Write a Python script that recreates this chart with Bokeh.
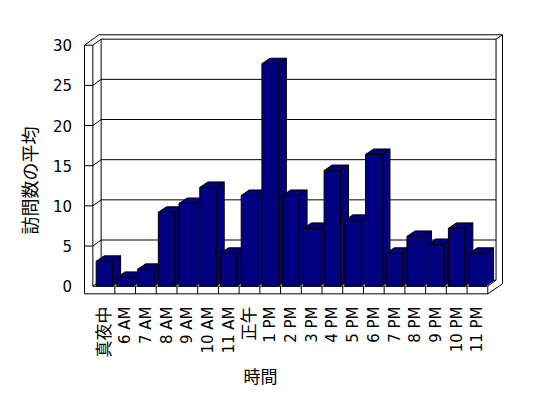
import math
from bokeh.plotting import figure
from bokeh.models import Range1d
from bokeh.core.properties import value
from bokeh.embed import file_html
from bokeh.resources import INLINE

# ---- data ----
categories = ["真夜中", "6 AM", "7 AM", "8 AM", "9 AM", "10 AM", "11 AM", "正午",
              "1 PM", "2 PM", "3 PM", "4 PM", "5 PM", "6 PM", "7 PM", "8 PM",
              "9 PM", "10 PM", "11 PM"]
visits = [3.1, 1.1, 2.1, 9.2, 10.3, 12.3, 4.1, 11.3, 27.7, 11.3, 7.2, 14.4,
          8.2, 16.4, 4.1, 6.2, 5.2, 7.2, 4.1]
y_ticks = [0, 5, 10, 15, 20, 25, 30]
x_title = "時間"
y_title = "訪問数の平均"

# ---- pseudo-3D geometry (x: category slots, y: value units) ----
N = len(categories)
YMAX = y_ticks[-1]
DX, DY = 0.40, 0.75          # wall depth offset
BX, BY = 0.39, 0.68          # bar depth offset
BAR_L, BAR_R = 0.10, 0.89    # bar front face inside its slot
WALL_OUT, WALL_IN = -0.463, -0.06
FLOOR_B = -0.95
TOP_OUT = 31.3
TOP_LX = 0.23
RIGHT_OUT = N + 0.71
FLOOR_RS = 0.3
YLAB_X = -1.06               # right edge of value labels
XLAB_Y = -2.53               # top of category labels

NAVY = "#000080"
NUM_FONT = "DejaVu Sans, Noto Sans CJK JP"
CJK_FONT = "Noto Sans CJK JP"

p = figure(width=548, height=398, output_backend="svg", toolbar_location=None,
           x_range=Range1d(-4.517, 21.931), y_range=Range1d(-13.98, 35.566),
           min_border=0)
p.axis.visible = False
p.outline_line_color = None
p.xgrid.visible = False
p.ygrid.visible = False
p.background_fill_color = "white"
p.border_fill_color = "white"

# ---- walls, floor, gridlines ----
xs, ys = [], []
for v in y_ticks[1:-1]:
    xs.append([WALL_OUT, WALL_IN, WALL_IN + DX, N + DX])
    ys.append([v, v, v + DY, v + DY])
xs.append([WALL_OUT, WALL_IN, WALL_IN + DX, N + DX, RIGHT_OUT])
ys.append([YMAX, YMAX, YMAX + DY, YMAX + DY, TOP_OUT])
xs.append([WALL_OUT, TOP_LX, RIGHT_OUT, RIGHT_OUT, N, WALL_OUT, WALL_OUT])
ys.append([YMAX, TOP_OUT, TOP_OUT, FLOOR_RS, FLOOR_B, FLOOR_B, YMAX])
xs.append([WALL_IN, WALL_IN]); ys.append([0, YMAX])
xs.append([WALL_IN + DX, WALL_IN + DX]); ys.append([DY, YMAX + DY])
xs.append([N + DX, N + DX]); ys.append([DY, YMAX + DY])
xs.append([WALL_IN + DX, WALL_IN, N, N]); ys.append([DY, 0, 0, FLOOR_B])
xs.append([WALL_IN + DX, N + DX, N]); ys.append([DY, DY, 0])
for k in range(1, N):
    xs.append([k, k]); ys.append([FLOOR_B, 0])
p.multi_line(xs, ys, line_color="black", line_width=1)

# ---- bars ----
bx, by = [], []
for i, v in enumerate(visits):
    l, r = i + BAR_L, i + BAR_R
    bx.append([r, r + BX, r + BX, r]); by.append([0, BY, v + BY, v])          # side
    bx.append([l, r, r + BX, l + BX]); by.append([v, v, v + BY, v + BY])     # top
    bx.append([l, r, r, l]); by.append([0, 0, v, v])                         # front
p.patches(bx, by, fill_color=NAVY, line_color="black", line_width=1)

# ---- tick labels ----
p.text(x=[YLAB_X] * len(y_ticks), y=y_ticks, text=[str(t) for t in y_ticks],
       text_align="right", text_baseline="middle", text_font=value(NUM_FONT),
       text_font_size="15px", text_color="black")
cat_sizes = ["15px" if c.isascii() else "17px" for c in categories]
p.text(x=[i + 0.5 for i in range(N)], y=[XLAB_Y] * N, text=categories,
       angle=math.pi / 2, text_align="right", text_baseline="middle",
       text_font=value(NUM_FONT), text_font_size=cat_sizes, text_color="black")

# ---- titles ----
p.text(x=[-3.118], y=[13.16], text=[y_title], angle=math.pi / 2,
       text_align="center", text_baseline="middle", text_font=value(CJK_FONT),
       text_font_size="18px", text_color="black")
p.text(x=[8.03], y=[-11.12], text=[x_title],
       text_align="center", text_baseline="middle", text_font=value(CJK_FONT),
       text_font_size="17px", text_color="black")

open("out.html", "w").write(file_html(p, INLINE))
